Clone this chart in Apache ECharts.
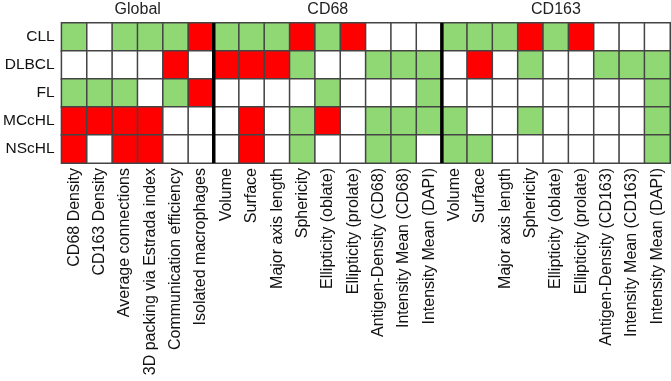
<!DOCTYPE html>
<html>
<head>
    <meta charset="utf-8">
    <title>Macrophage features heatmap</title>
    <script src="https://cdn.jsdelivr.net/npm/echarts@6/dist/echarts.min.js"></script>
    <style>
        html, body { margin: 0; padding: 0; background: #fff; }
        #container { width: 671px; height: 381px; }
    </style>
</head>
<body>
<div id="container"></div>
<script type="text/javascript">
    // row / column labels
    var rows = ['CLL', 'DLBCL', 'FL', 'MCcHL', 'NScHL'];
    var globalCols = ['CD68 Density', 'CD163 Density', 'Average connections', '3D packing via Estrada index',
        'Communication efficiency', 'Isolated macrophages'];
    var cd68Cols = ['Volume', 'Surface', 'Major axis length', 'Sphericity', 'Ellipticity (oblate)',
        'Ellipticity (prolate)', 'Antigen-Density (CD68)', 'Intensity Mean (CD68)', 'Intensity Mean (DAPI)'];
    var cd163Cols = ['Volume', 'Surface', 'Major axis length', 'Sphericity', 'Ellipticity (oblate)',
        'Ellipticity (prolate)', 'Antigen-Density (CD163)', 'Intensity Mean (CD163)', 'Intensity Mean (DAPI)'];
    var groups = ['Global', 'CD68', 'CD163'];

    // 1 = green, -1 = red, 0 = blank ; Global(6) | CD68(9) | CD163(9)
    var cll   = [1, 0, 1, 1, 1, -1,   1, 1, 1, -1, 1, -1, 0, 0, 0,   1, 1, 1, -1, 1, -1, 0, 0, 0];
    var dlbcl = [0, 0, 0, 0, -1, 0,   -1, -1, -1, 1, 0, 0, 1, 1, 1,   0, -1, 0, 1, 0, 0, 1, 1, 1];
    var fl    = [1, 1, 1, 0, 1, -1,   0, 0, 0, 0, 1, 0, 0, 0, 1,      0, 0, 0, 0, 0, 0, 0, 0, 1];
    var mcchl = [-1, -1, -1, -1, 0, 0, 0, -1, 0, 1, -1, 0, 1, 1, 1,   1, 0, 0, 1, 0, 0, 0, 0, 1];
    var nschl = [-1, 0, -1, -1, 0, 0, 0, -1, 0, 1, 0, 0, 1, 1, 0,    1, 1, 0, 0, 0, 0, 0, 0, 1];
    var rowValues = [cll, dlbcl, fl, mcchl, nschl];

    var cols = globalCols.concat(cd68Cols).concat(cd163Cols);
    // x categories must be unique, keep index as key
    var colKeys = cols.map(function (c, i) { return i; });

    var heat = [];
    rowValues.forEach(function (vals, r) {
        vals.forEach(function (v, c) {
            heat.push([c, r, v]);
        });
    });

    var dom = document.getElementById('container');
    var myChart = echarts.init(dom, null, {renderer: 'canvas'});

    var option = {
        animation: false,
        grid: {left: 60, right: 1, top: 23, height: 140},
        xAxis: {
            type: 'category',
            data: colKeys,
            axisLine: {show: false},
            axisTick: {show: false},
            splitLine: {show: false},
            axisLabel: {
                interval: 0,
                rotate: 90,
                margin: 5,
                fontSize: 16,
                color: '#111',
                fontFamily: 'Liberation Sans, Arial, sans-serif',
                formatter: function (v) { return cols[v]; }
            }
        },
        yAxis: {
            type: 'category',
            data: rows,
            inverse: true,
            axisLine: {show: false},
            axisTick: {show: false},
            axisLabel: {
                margin: 7,
                fontSize: 15.5,
                color: '#111',
                fontFamily: 'Liberation Sans, Arial, sans-serif'
            }
        },
        visualMap: {
            type: 'piecewise',
            show: false,
            dimension: 2,
            pieces: [
                {value: 1, color: '#8fd874'},
                {value: -1, color: '#ff0000'},
                {value: 0, color: '#ffffff'}
            ]
        },
        series: [{
            type: 'heatmap',
            data: heat,
            itemStyle: {borderColor: '#444', borderWidth: 1.5},
            emphasis: {disabled: true}
        }]
    };
    myChart.setOption(option);

    // thick separators and group titles
    function addDecorations() {
        function edge(i) {
            var a = myChart.convertToPixel({xAxisIndex: 0}, i);
            var b = myChart.convertToPixel({xAxisIndex: 0}, i + 1);
            return (a + b) / 2;
        }
        var yFirst = myChart.convertToPixel({yAxisIndex: 0}, rows[0]);
        var yLast = myChart.convertToPixel({yAxisIndex: 0}, rows[rows.length - 1]);
        var rowH = (yLast - yFirst) / (rows.length - 1);
        var gTop = yFirst - rowH / 2, gBottom = yLast + rowH / 2;
        var colW = edge(1) - edge(0);
        var gLeft = edge(0) - colW, gRight = edge(cols.length - 2) + colW;

        var cut1 = edge(globalCols.length - 1);
        var cut2 = edge(globalCols.length + cd68Cols.length - 1);
        var centers = [(gLeft + cut1) / 2, (cut1 + cut2) / 2, (cut2 + gRight) / 2];

        var graphics = [cut1, cut2].map(function (x) {
            return {
                type: 'line',
                shape: {x1: x, y1: gTop, x2: x, y2: gBottom},
                style: {stroke: '#000', lineWidth: 3.5},
                z: 100
            };
        });
        groups.forEach(function (g, i) {
            graphics.push({
                type: 'text',
                x: centers[i],
                y: gTop - 5,
                style: {
                    text: g,
                    fontSize: 16,
                    fill: '#222',
                    fontFamily: 'Liberation Sans, Arial, sans-serif',
                    align: 'center',
                    verticalAlign: 'bottom'
                }
            });
        });
        myChart.setOption({graphic: graphics});
    }
    addDecorations();
</script>
</body>
</html>
